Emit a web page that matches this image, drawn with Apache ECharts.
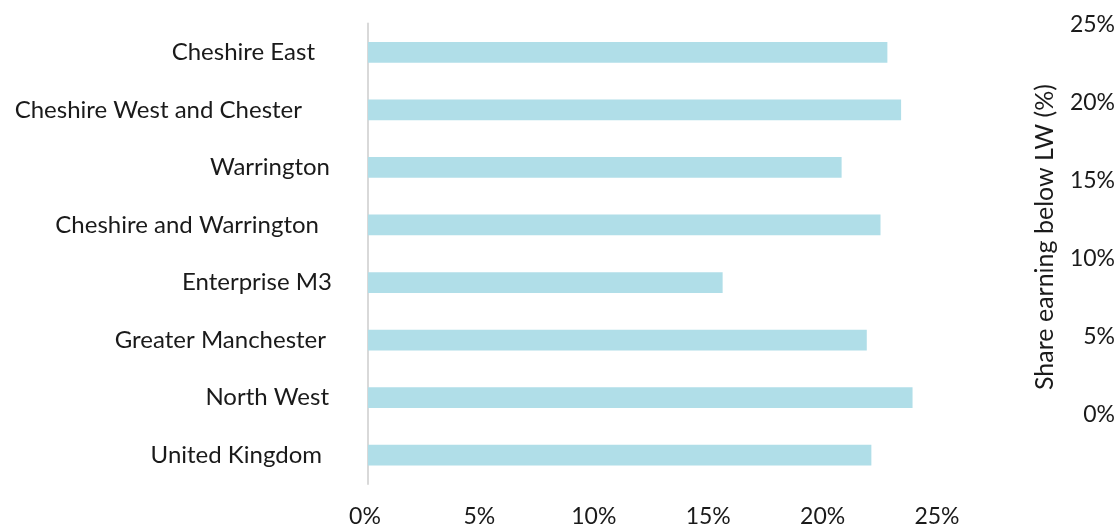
<!DOCTYPE html>
<html>
<head>
<meta charset="utf-8">
<script src="https://cdn.jsdelivr.net/npm/echarts@6/dist/echarts.min.js"></script>
<style>
html,body{margin:0;padding:0;background:#fff;}
#chart{width:1120px;height:528px;}
</style>
</head>
<body>
<div id="chart"></div>
<script>
const categories = ["Cheshire East","Cheshire West and Chester","Warrington","Cheshire and Warrington","Enterprise M3","Greater Manchester","North West","United Kingdom"];
const shareBelowLW = [22.7, 23.3, 20.7, 22.4, 15.5, 21.8, 23.8, 22.0];
const xTicks = [0, 5, 10, 15, 20, 25];
const rightTicks = [0, 5, 10, 15, 20, 25];
const rightAxisName = "Share earning below LW (%)";

// styling only: extra right padding per category label (mimics trailing spaces in source labels)
const labelPad = [17, 30, 2, 13, 0, 6, 3, 10];

const FONT = "Lato, 'Open Sans', sans-serif";
const TEXT = "#1a1a1a";

const rich = {};
labelPad.forEach((p, i) => {
  rich['p' + i] = {fontSize: 24, fontFamily: FONT, color: TEXT, padding: [0, p, 0, 0]};
});

const chart = echarts.init(document.getElementById('chart'), null, {renderer: 'canvas'});
chart.setOption({
  animation: false,
  backgroundColor: '#fff',
  grid: [
    {left: 368, top: 23.5, width: 572, height: 462},
    {left: 1118, top: 25, width: 1, height: 390}
  ],
  xAxis: [
    {
      gridIndex: 0, type: 'value', min: xTicks[0], max: xTicks[xTicks.length-1], interval: xTicks[1] - xTicks[0],
      axisLine: {show: false}, axisTick: {show: false}, splitLine: {show: false},
      axisLabel: {formatter: '{value}%', margin: 21, fontSize: 23, fontFamily: FONT, color: TEXT, padding: [0, 6, 0, 0]}
    },
    {gridIndex: 1, type: 'value', show: false}
  ],
  yAxis: [
    {
      gridIndex: 0, type: 'category', data: categories, inverse: true,
      axisLine: {show: true, lineStyle: {color: '#d9d9d9', width: 2}},
      axisTick: {show: false},
      axisLabel: {
        margin: 36, fontSize: 24, fontFamily: FONT, color: TEXT,
        formatter: (v, i) => '{p' + i + '|' + v + '}',
        rich: rich
      }
    },
    {
      gridIndex: 1, type: 'value', min: rightTicks[0], max: rightTicks[rightTicks.length-1], interval: rightTicks[1] - rightTicks[0], position: 'left',
      axisLine: {show: false}, axisTick: {show: false}, splitLine: {show: false},
      axisLabel: {formatter: '{value}%', margin: 3, fontSize: 23, fontFamily: FONT, color: TEXT},
      name: rightAxisName, nameLocation: 'middle', nameGap: 61,
      nameTextStyle: {fontSize: 25, fontFamily: FONT, color: TEXT, padding: [0, 34, 0, 0]}
    }
  ],
  series: [
    {
      type: 'bar', xAxisIndex: 0, yAxisIndex: 0, data: shareBelowLW,
      barWidth: '36%', itemStyle: {color: '#b0dee8'}
    }
  ]
});
</script>
</body>
</html>
